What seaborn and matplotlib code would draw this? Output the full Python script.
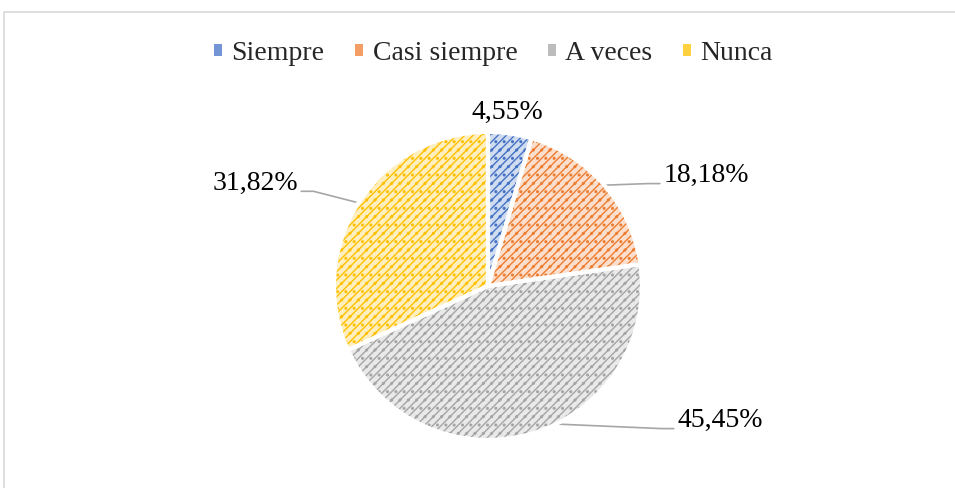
import numpy as np
import seaborn as sns
import matplotlib.pyplot as plt
from matplotlib.patches import Patch, Rectangle
from matplotlib.colors import to_rgb

# Data
categories = ["Siempre", "Casi siempre", "A veces", "Nunca"]
values = [4.55, 18.18, 45.45, 31.82]
labels = ["4,55%", "18,18%", "45,45%", "31,82%"]
colors = ["#4472c4", "#ed7d31", "#a5a5a5", "#ffc000"]

sns.set_theme(style="white")
plt.rcParams["font.family"] = ["Liberation Serif", "DejaVu Serif"]
plt.rcParams["hatch.linewidth"] = 1.0

def tint(c, amount=0.7):
    r, g, b = to_rgb(c)
    return (r + (1 - r) * amount, g + (1 - g) * amount, b + (1 - b) * amount)

fig = plt.figure(figsize=(9.55, 4.88), dpi=100)
ax = fig.add_axes([0, 0, 1, 1])

# hatched fill: hatch drawn in edge colour, no outline
wedges, _ = ax.pie(values, colors=[tint(c, 0.75) for c in colors], startangle=90,
                   counterclock=False,
                   wedgeprops=dict(linewidth=0, hatch="////.."))
for w, c in zip(wedges, colors):
    w.set_edgecolor(c)

# white separators on top
ax.pie(values, colors=["none"] * 4, startangle=90, counterclock=False,
       wedgeprops=dict(linewidth=3, edgecolor="white", fill=False))

# data labels (label centre, leader anchor angle on the pie edge)
label_pos = [(0.123, 1.13), (1.416, 0.715), (1.506, -0.876), (-1.513, 0.665)]
anchor_deg = [None, 40.9, -63.7, 147.3]
for lab, pos, a in zip(labels, label_pos, anchor_deg):
    if a is not None:
        ang = np.deg2rad(a)
        x0, y0 = np.cos(ang), np.sin(ang)
        side = np.sign(pos[0])
        x2 = pos[0] - side * 0.30
        x1 = x2 - side * 0.08
        ly = pos[1] - 0.05
        ax.plot([x0, x1, x2], [y0, ly, ly], color="#a6a6a6", lw=1.2, zorder=0.5)
    ax.text(pos[0], pos[1], lab, ha="center", va="center", fontsize=20, color="black")

# axes scale: 154 px per unit, centre at (488, 286)
ax.set_xlim(-488 / 154, (955 - 488) / 154)
ax.set_ylim(-(488 - 286) / 154, 286 / 154)
ax.set_aspect("auto")
ax.axis("off")

handles = [Patch(facecolor=tint(c, 0.25), edgecolor="none") for c in colors]
fig.legend(handles, categories, loc="center", bbox_to_anchor=(0.5168, 0.89),
           ncol=4, frameon=False, fontsize=20, handlelength=0.3, handleheight=0.3,
           handletextpad=0.33, columnspacing=1.1)

# light chart frame
fig.patches.append(Rectangle((4 / 955, -0.1), 1.1, 1 - 12 / 488 + 0.1,
                             transform=fig.transFigure, fill=False,
                             edgecolor="#d9d9d9", lw=1.2))

plt.savefig("out.png", dpi=100)
plt.close()
